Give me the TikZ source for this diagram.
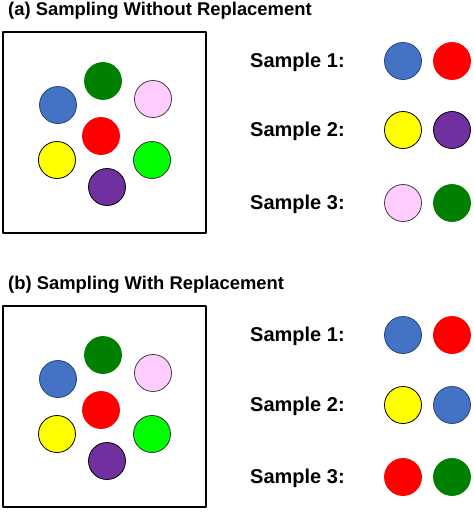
\documentclass[tikz,border=0pt]{standalone}
\usepackage{fontspec}
\setmainfont{Liberation Sans}
\definecolor{ballblue}{HTML}{4472C4}
\definecolor{ballred}{HTML}{FF0000}
\definecolor{ballgreen}{HTML}{008000}
\definecolor{ballpink}{HTML}{FFCCFF}
\definecolor{balllime}{HTML}{00FF00}
\definecolor{ballyellow}{HTML}{FFFF00}
\definecolor{ballpurple}{HTML}{7030A0}
\tikzset{
  ball/.style={circle, minimum size=37pt, inner sep=0pt, line width=0.8pt},
  blueb/.style={fill=ballblue, draw=ballblue!60!black},
  redb/.style={fill=ballred, draw=ballred},
  greenb/.style={fill=ballgreen, draw=ballgreen},
  pinkb/.style={fill=ballpink, draw=black!75},
  limeb/.style={fill=balllime, draw=black!80},
  yellowb/.style={fill=ballyellow, draw=black},
  purpleb/.style={fill=ballpurple, draw=black},
}
\begin{document}
\begin{tikzpicture}[x=1pt, y=-1pt, line cap=round, line join=round,
    ttl/.style={font=\bfseries\fontsize{18.4}{22}\selectfont, anchor=base west, inner sep=0pt},
    lbl/.style={font=\bfseries\fontsize{20}{24}\selectfont, anchor=base west, inner sep=0pt}]
  \useasboundingbox (0,0) rectangle (474,512);
  % the two urns
  \foreach \p/\dy/\t in {a/0/Without, b/274/With} {
    \node[ttl] (title-\p) at (8,15+\dy) {(\p) Sampling \t{} Replacement};
    \draw[line width=1.8pt] (3,32+\dy) rectangle (206,233+\dy);
    \foreach \c/\x/\y in {greenb/103/81, blueb/58/105, pinkb/153/99, redb/101/136,
                          yellowb/57/160, limeb/152/160, purpleb/107/187}
      \node[ball,\c] (\p-\c) at (\x,\y+\dy) {};
  }
  % samples without replacement
  \foreach \k/\y/\c/\d in {1/61/blueb/redb, 2/130/yellowb/purpleb, 3/203/pinkb/greenb} {
    \node[lbl] (a-lbl\k) at (250,\y+6.5) {Sample \k:};
    \node[ball,\c] (a-s\k1) at (403,\y) {};
    \node[ball,\d] (a-s\k2) at (452,\y) {};
  }
  % samples with replacement
  \foreach \k/\y/\c/\d in {1/335/blueb/redb, 2/405/yellowb/blueb, 3/477/redb/greenb} {
    \node[lbl] (b-lbl\k) at (250,\y+6.5) {Sample \k:};
    \node[ball,\c] (b-s\k1) at (403,\y) {};
    \node[ball,\d] (b-s\k2) at (452,\y) {};
  }
\end{tikzpicture}
\end{document}
